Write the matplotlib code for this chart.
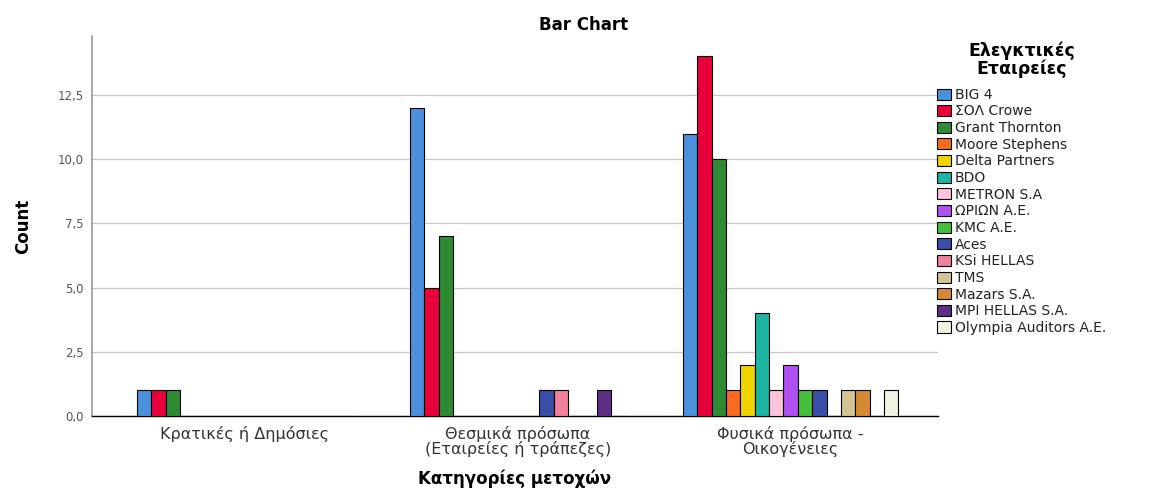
import matplotlib
matplotlib.use("Agg")
import matplotlib.pyplot as plt
import numpy as np
from matplotlib.ticker import FuncFormatter

categories = ["Κρατικές ή Δημόσιες", "Θεσμικά πρόσωπα\n(Εταιρείες ή τράπεζες)", "Φυσικά πρόσωπα -\nΟικογένειες"]
firms = ["BIG 4", "ΣΟΛ Crowe", "Grant Thornton", "Moore Stephens", "Delta Partners", "BDO",
         "METRON S.A", "ΩΡΙΩΝ Α.Ε.", "KMC A.E.", "Aces", "KSi HELLAS", "TMS", "Mazars S.A.",
         "MPI HELLAS S.A.", "Olympia Auditors A.E."]
# counts[firm] = [cat1, cat2, cat3]
counts = {
    "BIG 4": [1, 12, 11],
    "ΣΟΛ Crowe": [1, 5, 14],
    "Grant Thornton": [1, 7, 10],
    "Moore Stephens": [0, 0, 1],
    "Delta Partners": [0, 0, 2],
    "BDO": [0, 0, 4],
    "METRON S.A": [0, 0, 1],
    "ΩΡΙΩΝ Α.Ε.": [0, 0, 2],
    "KMC A.E.": [0, 0, 1],
    "Aces": [0, 1, 1],
    "KSi HELLAS": [0, 1, 0],
    "TMS": [0, 0, 1],
    "Mazars S.A.": [0, 0, 1],
    "MPI HELLAS S.A.": [0, 1, 0],
    "Olympia Auditors A.E.": [0, 0, 1],
}
colors = ["#4a90dc", "#e8003a", "#2e8b34", "#fa6a22", "#f0d400", "#1db4a2",
          "#ffc2dc", "#b050f0", "#44c03c", "#3a4ea8", "#f0809e", "#d4c494",
          "#d48a34", "#5e2e84", "#f2f2e2"]

plt.rcParams['font.family'] = ['DejaVu Sans']

fig = plt.figure(figsize=(11.57, 4.92), dpi=100)
ax = fig.add_axes([0.0795, 0.1545, 0.7312, 0.927 - 0.1545])

n = len(firms)
w = 0.0527
x = np.arange(len(categories))
for j, f in enumerate(firms):
    ax.bar(x + (j - (n - 1) / 2) * w, counts[f], width=w, color=colors[j],
           edgecolor="black", linewidth=0.8, label=f, zorder=3)

ax.set_xlim(-0.56, 2.54)
ax.set_ylim(0, 14.8)
ax.set_yticks([0, 2.5, 5, 7.5, 10, 12.5])
ax.yaxis.set_major_formatter(FuncFormatter(lambda v, p: f"{v:.1f}".replace(".", ",")))
ax.set_xticks(x)
ax.set_xticklabels(categories, fontsize=11.5, color="#333333", linespacing=0.92)
ax.tick_params(axis="y", length=0, labelsize=8.5, labelcolor="#555555", pad=6)
ax.tick_params(axis="x", length=0, pad=7)
ax.grid(axis="y", color="#c8c8c8", linewidth=0.9, zorder=0)
for s in ["top", "right"]:
    ax.spines[s].set_visible(False)
ax.spines["left"].set_color("#999999")
ax.spines["left"].set_linewidth(1.2)
ax.spines["bottom"].set_color("black")
ax.spines["bottom"].set_linewidth(1.0)

ax.set_ylabel("Count", fontsize=12, fontweight="bold", labelpad=18)
ax.set_xlabel("Κατηγορίες μετοχών", fontsize=12, fontweight="bold", labelpad=9)
fig.suptitle("Bar Chart", x=0.504, y=0.968, fontsize=12, fontweight="bold")

leg = ax.legend(title="Ελεγκτικές\nΕταιρείες", loc="upper left", bbox_to_anchor=(0.992, 0.999),
                frameon=False, fontsize=10, handlelength=1.0, handleheight=0.85,
                handletextpad=0.3, labelspacing=0.19, borderaxespad=0)
leg.get_title().set_fontweight("bold")
leg.get_title().set_fontsize(12.5)
leg.get_title().set_multialignment("center")
leg.get_title().set_linespacing(0.95)
leg._legend_box.sep = 7
for t in leg.get_texts():
    t.set_color("#222222")

fig.savefig("out.png", dpi=100)
